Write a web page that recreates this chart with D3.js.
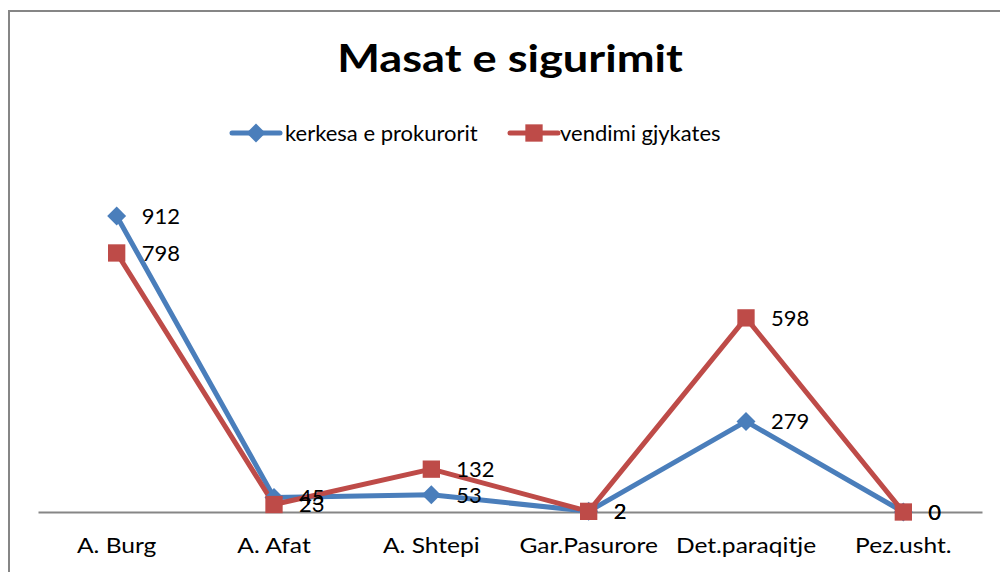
<!DOCTYPE html>
<html>
<head>
<meta charset="utf-8">
<script src="https://cdn.jsdelivr.net/npm/d3@7"></script>
<style>
  body { margin: 0; background: #fff; }
  text { font-family: Lato, "Open Sans", sans-serif; fill: #000; }
</style>
</head>
<body>
<svg id="chart" width="1000" height="572"></svg>
<script>
var categories = ["A. Burg", "A. Afat", "A. Shtepi", "Gar.Pasurore", "Det.paraqitje", "Pez.usht."];
var kerkesa = [912, 45, 53, 2, 279, 0];
var vendimi = [798, 23, 132, 2, 598, 0];
var seriesNames = ["kerkesa e prokurorit", "vendimi gjykates"];
var colors = ["#4a7ebb", "#be4b48"];

var svg = d3.select("#chart");

// chart area border (right / bottom cut off like the original)
svg.append("rect")
    .attr("x", 9).attr("y", 11)
    .attr("width", 1100).attr("height", 700)
    .attr("fill", "none")
    .attr("stroke", "#868686")
    .attr("stroke-width", 2);

// title, stretched a bit to get the calibri width
svg.append("text")
    .attr("transform", "translate(510,72) scale(1.19,1)")
    .attr("text-anchor", "middle")
    .style("font-size", "38px")
    .style("font-weight", "bold")
    .text("Masat e sigurimit");

var x = d3.scaleBand().domain(categories).range([38, 982]);
var y = d3.scaleLinear().domain([0, 1000]).range([512, 187.4]);

function cx(i) { return x(categories[i]) + x.bandwidth() / 2; }

// x axis
var xAxis = svg.append("g")
    .attr("transform", "translate(0," + y(0) + ")")
    .call(d3.axisBottom(x).tickSize(0).tickPadding(0));
xAxis.select(".domain").attr("stroke", "#868686").attr("stroke-width", 2);
xAxis.selectAll(".tick text")
    .attr("y", null).attr("dy", null)
    .attr("transform", "translate(0,41) scale(1.17,1)")
    .style("font-size", "21px")
    .style("font-family", "Lato");

var data = [
    { name: seriesNames[0], values: kerkesa, color: colors[0], shape: d3.symbolSquare, size: 180, rot: 45 },
    { name: seriesNames[1], values: vendimi, color: colors[1], shape: d3.symbolSquare, size: 300, rot: 0 }
];

var line = d3.line()
    .x(function (d, i) { return cx(i); })
    .y(function (d) { return y(d); });

data.forEach(function (s) {
    svg.append("path")
        .attr("d", line(s.values))
        .attr("fill", "none")
        .attr("stroke", s.color)
        .attr("stroke-width", 5)
        .attr("stroke-linejoin", "round");
});

data.forEach(function (s) {
    svg.append("g").selectAll("path")
        .data(s.values).enter()
        .append("path")
        .attr("d", d3.symbol().type(s.shape).size(s.size))
        .attr("transform", function (d, i) {
            return "translate(" + cx(i) + "," + y(d) + ") rotate(" + s.rot + ")";
        })
        .attr("fill", s.color);
});

// value labels
data.forEach(function (s) {
    svg.append("g").selectAll("text")
        .data(s.values).enter()
        .append("text")
        .attr("x", function (d, i) { return cx(i) + 25; })
        .attr("y", function (d) { return y(d); })
        .attr("dy", "0.36em")
        .style("font-size", "22px")
        .text(function (d) { return d; });
});

// legend
var legend = [
    { x: 232, textX: 285 },
    { x: 510, textX: 560 }
];
data.forEach(function (s, i) {
    var g = svg.append("g").attr("transform", "translate(" + legend[i].x + ",133)");
    g.append("line")
        .attr("x1", 0).attr("x2", 48)
        .attr("stroke", s.color).attr("stroke-width", 5)
        .attr("stroke-linecap", "round");
    g.append("path")
        .attr("d", d3.symbol().type(s.shape).size(s.size))
        .attr("transform", "translate(24,0) rotate(" + s.rot + ")")
        .attr("fill", s.color);
    svg.append("text")
        .attr("x", legend[i].textX).attr("y", 133)
        .attr("dy", "0.36em")
        .style("font-size", "22px")
        .text(s.name);
});
</script>
</body>
</html>
